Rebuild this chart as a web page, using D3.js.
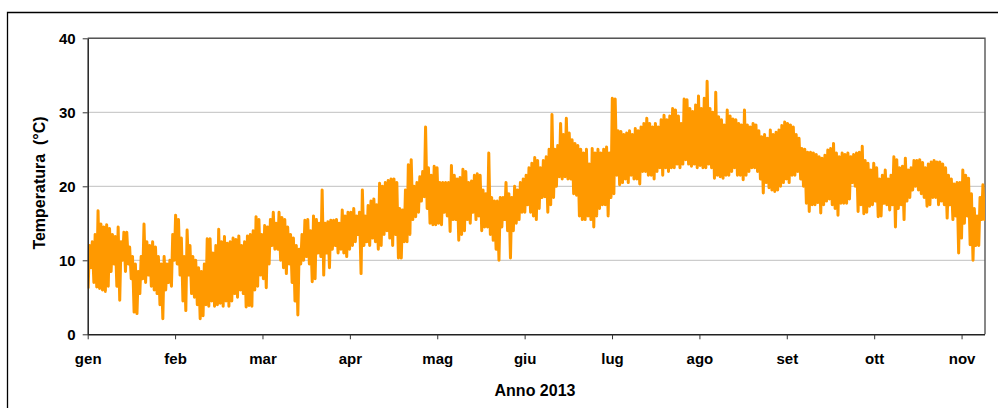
<!DOCTYPE html>
<html>
<head>
<meta charset="utf-8">
<script src="https://cdn.jsdelivr.net/npm/d3@7"></script>
<style>
  html, body { margin: 0; padding: 0; background: #fff; }
  svg { display: block; font-family: "Liberation Sans", Arial, sans-serif; }
</style>
</head>
<body>
<div id="chart"></div>
<script>
const monthLabels = ["gen","feb","mar","apr","mag","giu","lug","ago","set","ott","nov"];
const yTicks = [0, 10, 20, 30, 40];

// Daily maximum and minimum temperatures (°C), day 0 = 1 Jan 2013
const dailyMax = [
  12,12.5,13.5,16.7,14.9,14.5,14.8,14.3,13.5,13.2,
  14.5,12.5,13.8,13.8,11.8,10.5,9.5,8.5,10.5,14.9,
  12.5,12.0,12.5,11.8,10.5,9.5,10.5,9.5,10.0,13.5,
  16.1,15.5,13.0,10.5,14.1,12.0,10.5,10.0,9.0,8.5,
  9.5,12.9,12.9,11.0,12.0,14.2,12.5,13.2,12.3,12.5,
  13.0,12.8,13.3,12.0,12.5,13.3,13.5,14.0,15.9,15.5,
  13.5,14.7,14.5,15.5,16.5,15.0,16.5,15.8,15.5,14.5,
  13.5,13.0,12.0,11.5,13.5,15.4,15.5,14.0,16.0,15.5,
  15.0,19.5,15.0,15.2,15.4,15.4,15.5,15.0,16.8,16.0,
  16.5,16.5,17.0,16.0,16.5,19.5,16.0,17.4,18.0,18.3,
  17.5,20.4,20.0,20.5,20.8,21.0,21.0,20.5,17.0,16.8,
  19.5,22.9,23.6,20.0,20.5,21.3,22.0,28.0,22.5,21.5,
  22.7,22.5,20.5,20.5,20.5,20.5,22.8,21.5,21.0,21.2,
  22.3,22.0,20.5,20.7,21.5,21.7,21.5,19.5,19.0,24.5,
  18.5,18.0,18.0,18.5,18.5,20.5,19.0,18.5,20.0,19.5,
  20.5,21.0,21.5,22.5,23.1,23.9,23.5,22.5,23.5,24.0,
  25.0,29.7,25.0,25.5,28.5,27.0,29.2,27.2,26.3,25.8,
  25.5,25.0,24.5,25.0,23.0,25.1,24.5,25.0,24.5,25.0,
  25.3,24.5,31.9,31.8,27.5,27.4,27.0,27.2,27.5,27.0,
  27.8,27.5,28.0,28.5,29.2,28.5,28.0,28.5,28.0,29.0,
  29.6,29.0,29.5,30.5,30.3,29.5,28.5,31.8,31.7,30.5,
  30.1,31.0,32.2,30.5,31.9,34.2,30.5,30.0,32.7,29.4,
  29.0,28.3,30.3,29.5,29.1,29.0,28.5,28.3,30.3,28.3,
  28.0,28.5,28.3,27.5,26.7,27.0,26.5,27.6,27.0,27.3,
  27.6,28.2,28.7,28.5,28.3,28.0,27.0,26.5,25.1,25.0,
  24.6,24.6,24.5,24.3,24.0,23.8,24.2,24.9,25.1,25.8,
  24.5,24.0,24.5,24.3,24.5,24.0,24.3,24.5,24.6,25.4,
  23.5,23.1,22.2,23.1,22.5,21.0,21.5,22.2,21.0,21.5,
  24.0,23.6,22.5,22.7,23.8,22.2,22.5,23.5,23.5,23.6,
  23.2,22.5,23.0,23.3,23.5,23.3,23.3,23.0,22.5,21.5,
  21.0,20.3,20.5,20.5,22.2,21.5,21.1,19.0,17.0,16.0,
  18.5,20.2,16.0
];
const dailyMin = [
  6.2,9,7,6.4,6.2,6.0,5.8,6.5,8.5,9.5,
  6.5,4.6,10,8.5,9.5,7.5,3.0,2.8,5.5,7.5,
  7.0,8.0,6.5,6.0,5.5,4.0,2.1,6.0,7.0,6.5,
  10.0,9.5,8.0,4.5,3.2,8.0,5.5,5.0,4.0,2.1,
  2.5,4.0,3.8,4.5,3.8,4.0,4.2,3.8,4.5,3.8,
  4.5,5.5,5.0,6.0,5.5,3.7,3.9,3.8,6.0,6.5,
  8.0,7.5,6.3,9.5,12.0,11.5,11.5,10.0,9.0,8.2,
  9.5,7.0,4.5,2.6,9.5,10.0,10.5,9.5,7.1,7.5,
  11.0,10.5,8.0,11.0,9.0,11.5,12.0,11.0,11.5,11.0,
  10.5,11.5,12.0,12.5,13.5,8.2,12.0,12.5,12.0,13.0,
  12.5,11.5,12.0,13.5,14.0,13.0,12.0,13.5,10.3,10.3,
  12.5,12.5,13.5,15.5,15.9,16.5,18.0,18.6,17.0,15.0,
  14.8,14.8,15.0,14.8,16.5,16.0,13.9,15.5,15.5,12.7,
  13.5,14.0,15.5,15.0,16.5,15.5,16.0,14.0,14.5,14.5,
  13.5,12.7,11.5,10.0,14.5,15.5,14.0,10.3,14.0,15.0,
  15.5,16.5,16.5,17.5,16.5,16.0,15.5,17.0,18.5,18.6,
  16.5,17.5,18.5,20.0,21.3,21.0,21.3,21.0,21.0,19.0,
  18.8,16.0,15.5,15.5,16.0,15.5,14.5,16.0,17.0,17.5,
  17.5,16.0,18.5,19.0,21.5,20.2,20.5,21.0,20.5,21.5,
  21.0,21.0,20.3,22.0,22.0,21.5,21.5,21.0,22.0,22.5,
  21.5,22.5,22.0,22.5,22.5,23.0,22.5,23.0,23.6,23.0,
  22.7,23.0,22.5,22.8,22.5,22.5,23.0,22.5,21.1,21.5,
  21.3,21.1,21.5,21.5,22.0,22.5,21.5,21.5,20.9,21.5,
  22.0,22.5,22.5,22.0,21.0,19.1,20.5,19.8,19.5,19.3,
  19.5,20.0,20.5,21.0,20.5,21.5,21.5,22.0,21.0,20.0,
  17.7,16.6,17.5,17.5,17.8,16.4,17.5,18.0,18.3,17.5,
  17.0,16.1,17.7,17.7,17.7,18.3,20.5,20.0,16.6,17.5,
  16.3,16.5,17.3,17.5,18.0,15.9,16.0,17.7,17.5,16.8,
  17.5,14.5,17.0,17.5,15.5,18.0,18.5,19.5,20.0,19.5,
  19.0,18.5,17.3,17.5,18.5,18.5,17.5,18.0,17.5,15.7,
  17.5,15.5,16.0,11.0,13.0,15.0,16.0,12.1,10.0,12.0,
  12.0,15.5,15.5
];

const W = 998, H = 408;
const plot = { left: 87.7, right: 985, top: 38.3, bottom: 334.3 };

const svg = d3.select("#chart").append("svg").attr("width", W).attr("height", H);

// outer chart border
svg.append("path")
  .attr("d", `M7.5,${H} L7.5,12.5 L${W},12.5`)
  .attr("fill", "none").attr("stroke", "#000").attr("stroke-width", 1.3);

const x = d3.scaleLinear().domain([0, 365]).range([plot.left, plot.left + 2.873 * 365]);
const y = d3.scaleLinear().domain([0, 40]).range([plot.bottom, plot.top]);

// gridlines
svg.append("g").selectAll("line").data(yTicks.filter(v => v > 0)).join("line")
  .attr("x1", plot.left).attr("x2", plot.right)
  .attr("y1", d => y(d)).attr("y2", d => y(d))
  .attr("stroke", "#c0c0c0").attr("stroke-width", 1);

// plot border (top and right)
svg.append("path")
  .attr("d", `M${plot.left},${y(40)} L${plot.right},${y(40)} L${plot.right},${plot.bottom}`)
  .attr("fill", "none").attr("stroke", "#555").attr("stroke-width", 1.4);

// data line
const pts = [];
dailyMax.forEach((hi, i) => {
  pts.push({ t: i + 0.15, v: dailyMin[i] });
  pts.push({ t: i + 0.6, v: hi });
});
svg.append("defs").append("clipPath").attr("id", "clip")
  .append("rect").attr("x", plot.left).attr("y", 0)
  .attr("width", plot.right - plot.left).attr("height", plot.bottom);
svg.append("path")
  .datum(pts)
  .attr("clip-path", "url(#clip)")
  .attr("d", d3.line().x(d => x(d.t)).y(d => y(d.v)))
  .attr("fill", "none").attr("stroke", "#FF9900")
  .attr("stroke-width", 3).attr("stroke-linejoin", "round");

// axes
const monthTicks = monthLabels.map((m, i) => i * 365 / 12);
const xAxis = d3.axisBottom(x).tickValues(monthTicks)
  .tickFormat((d, i) => monthLabels[i]).tickSize(5).tickSizeOuter(0);
const gx = svg.append("g").attr("transform", `translate(0,${plot.bottom})`).call(xAxis);
gx.select(".domain").attr("d", `M${plot.left},0.5H${plot.right}`).attr("stroke", "#222").attr("stroke-width", 1.5);
gx.selectAll(".tick line").attr("stroke", "#333").attr("stroke-width", 1);
gx.selectAll(".tick text").attr("font-size", 15).attr("font-weight", "bold")
  .attr("fill", "#000").attr("dy", "1.45em").attr("font-family", "Liberation Sans, Arial, sans-serif");

const yAxis = d3.axisLeft(y).tickValues(yTicks).tickSize(5).tickSizeOuter(0);
const gy = svg.append("g").attr("transform", `translate(${plot.left},0)`).call(yAxis);
gy.select(".domain").attr("stroke", "#222").attr("stroke-width", 1.5);
gy.selectAll(".tick line").attr("stroke", "#333");
gy.selectAll(".tick text").attr("font-size", 15).attr("font-weight", "bold")
  .attr("fill", "#000").attr("x", -12).attr("font-family", "Liberation Sans, Arial, sans-serif");

// axis titles
svg.append("text")
  .attr("x", 535).attr("y", 396)
  .attr("text-anchor", "middle").attr("font-size", 16).attr("font-weight", "bold")
  .text("Anno 2013");
svg.append("text")
  .attr("transform", "translate(45,183) rotate(-90)")
  .attr("text-anchor", "middle").attr("font-size", 16).attr("font-weight", "bold")
  .attr("xml:space", "preserve").style("white-space", "pre")
  .text("Temperatura  (°C)");
</script>
</body>
</html>
